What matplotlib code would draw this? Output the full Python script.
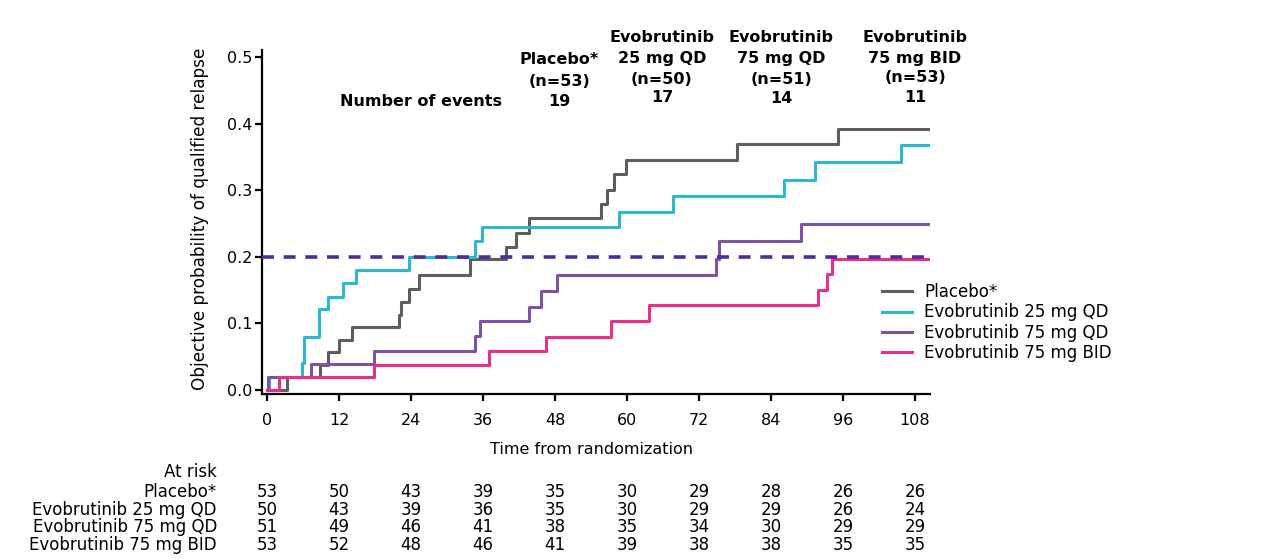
import matplotlib
matplotlib.use("Agg")
import matplotlib.pyplot as plt
from matplotlib.transforms import blended_transform_factory

plt.rcParams['font.family'] = ['DejaVu Sans']

# cumulative probability of qualified relapse (step curves)
placebo_t = [0, 3.3, 8.9, 10.2, 12.05, 14.1, 22.05, 22.4, 23.7, 25.4, 33.8, 39.8,
             41.5, 43.6, 55.6, 56.6, 57.9, 59.8, 78.4, 95.1]
placebo_p = [0, 0.019, 0.038, 0.057, 0.075, 0.094, 0.113, 0.132, 0.151, 0.172, 0.196,
             0.215, 0.235, 0.258, 0.279, 0.301, 0.324, 0.346, 0.369, 0.392]

qd25_t = [0, 0.3, 5.8, 6.2, 8.7, 10.1, 12.6, 14.9, 23.7, 34.7, 35.9, 58.6, 67.6,
          86.2, 91.4, 105.7]
qd25_p = [0, 0.02, 0.04, 0.08, 0.121, 0.140, 0.160, 0.180, 0.200, 0.224, 0.244,
          0.267, 0.292, 0.316, 0.342, 0.368]

qd75_t = [0, 0.2, 7.4, 17.8, 34.7, 35.5, 43.6, 45.7, 48.3, 74.8, 75.4, 89.0]
qd75_p = [0, 0.0196, 0.039, 0.059, 0.081, 0.104, 0.125, 0.148, 0.172, 0.197, 0.223, 0.249]

bid75_t = [0, 2.0, 17.8, 37.0, 46.5, 57.4, 63.6, 91.8, 93.3, 94.2]
bid75_p = [0, 0.019, 0.038, 0.059, 0.080, 0.104, 0.127, 0.150, 0.174, 0.197]

end_time = 110.5
ref_level = 0.2

labels = ['Placebo*', 'Evobrutinib 25 mg QD', 'Evobrutinib 75 mg QD', 'Evobrutinib 75 mg BID']
colors = ['#5e5e5e', '#2cb8d1', '#7b53a7', '#ea2e8b']

# header: group, n, events
head_lines = [['Placebo*', '(n=53)', '19'],
              ['Evobrutinib', '25 mg QD', '(n=50)', '17'],
              ['Evobrutinib', '75 mg QD', '(n=51)', '14'],
              ['Evobrutinib', '75 mg BID', '(n=53)', '11']]

risk_times = [0, 12, 24, 36, 48, 60, 72, 84, 96, 108]
risk_placebo = [53, 50, 43, 39, 35, 30, 29, 28, 26, 26]
risk_qd25 = [50, 43, 39, 36, 35, 30, 29, 29, 26, 24]
risk_qd75 = [51, 49, 46, 41, 38, 35, 34, 30, 29, 29]
risk_bid75 = [53, 52, 48, 46, 41, 39, 38, 38, 35, 35]

W, H = 1274, 559
fig = plt.figure(figsize=(W / 100, H / 100), dpi=100)
ax = fig.add_axes([262 / W, 165 / H, 668 / W, 344 / H])

curves = [(placebo_t, placebo_p), (qd25_t, qd25_p), (qd75_t, qd75_p), (bid75_t, bid75_p)]
for (t, p), lab, c in zip(curves, labels, colors):
    ax.step(t + [end_time], p + [p[-1]], where='post', color=c, lw=2.2,
            label=lab, zorder=3)

ax.axhline(ref_level, color='#4f2b9b', lw=2.6, dashes=(3.3, 2.7), zorder=4)

ax.set_xlim(-0.83, end_time)
ax.set_ylim(-0.006, 0.5105)
ax.set_xticks(risk_times)
ax.set_yticks([0, 0.1, 0.2, 0.3, 0.4, 0.5])
ax.set_yticklabels(['0.0', '0.1', '0.2', '0.3', '0.4', '0.5'])
for s in ['top', 'right']:
    ax.spines[s].set_visible(False)
for s in ['left', 'bottom']:
    ax.spines[s].set_linewidth(1.6)
ax.tick_params(axis='both', length=5, width=1.6, labelsize=11.5)
ax.tick_params(axis='y', pad=2)
ax.tick_params(axis='x', pad=9)

ax.set_ylabel('Objective probability of qualified relapse', fontsize=12.2)
ax.yaxis.set_label_coords(-0.079, 0.51)

tr = blended_transform_factory(ax.transData, fig.transFigure)
fig.text(591 / W, 1 - 450 / H, 'Time from randomization', ha='center', va='center',
         fontsize=11.5)

# header text
fig.text(502 / W, 1 - 101 / H, 'Number of events', ha='right', va='center',
         fontsize=11.5, fontweight='bold')
col_x = [559, 662, 781, 915]
col_y = [[60, 81, 101], [38, 59, 79, 98], [38, 59, 80, 99], [38, 58, 78, 98]]
for cx, lines, ys in zip(col_x, head_lines, col_y):
    for txt, yy in zip(lines, ys):
        fig.text(cx / W, 1 - yy / H, txt, ha='center', va='center',
                 fontsize=11.5, fontweight='bold')

leg = ax.legend(loc='upper left', bbox_to_anchor=(882 / W, 1 - 283 / H),
                bbox_transform=fig.transFigure, frameon=False, fontsize=12,
                handlelength=1.8, handletextpad=0.75, labelspacing=0.14,
                borderpad=0, borderaxespad=0)

# at risk table
fig.text(217 / W, 1 - 472 / H, 'At risk', ha='right', va='center', fontsize=12)
rows = [risk_placebo, risk_qd25, risk_qd75, risk_bid75]
row_y = [492, 510, 527, 545]
for lab, vals, yy in zip(labels, rows, row_y):
    fig.text(217 / W, 1 - yy / H, lab, ha='right', va='center', fontsize=12)
    for t, v in zip(risk_times, vals):
        ax.text(t, 1 - yy / H, str(v), transform=tr, ha='center', va='center',
                fontsize=12)

fig.savefig('out.png', dpi=100)
